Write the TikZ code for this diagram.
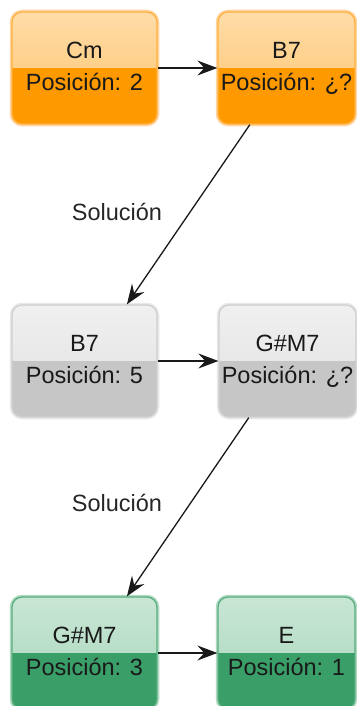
\documentclass[tikz,border=0pt]{standalone}
\usepackage{fontspec}
\setmainfont{Liberation Sans}
\usetikzlibrary{arrows.meta,calc}
\definecolor{orTop}{HTML}{FFDCA8}
\definecolor{orMid}{HTML}{FFC46A}
\definecolor{orBot}{HTML}{FF9900}
\definecolor{orEdge}{HTML}{FFB040}
\definecolor{orGlow}{HTML}{FFD6A0}
\definecolor{grTop}{HTML}{F0F0F0}
\definecolor{grMid}{HTML}{E0E0E0}
\definecolor{grBot}{HTML}{C6C6C6}
\definecolor{grEdge}{HTML}{CFCFCF}
\definecolor{grGlow}{HTML}{E8E8E8}
\definecolor{gnTop}{HTML}{C8E6D4}
\definecolor{gnMid}{HTML}{A8D6BB}
\definecolor{gnBot}{HTML}{3A9E68}
\definecolor{gnEdge}{HTML}{5AAE80}
\definecolor{gnGlow}{HTML}{B0DAC2}
\tikzset{
  chordbox/.style={rounded corners=10pt, minimum width=145pt, minimum height=112pt,
    inner sep=0pt, align=center, font=\fontsize{23.5}{32}\selectfont, text=black!90,
    line width=1.3pt},
  narrow/.style={minimum width=137pt},
  twotone/.style n args={3}{path picture={
      \fill[sharp corners, top color=#1, bottom color=#2] (path picture bounding box.north west) rectangle (path picture bounding box.east);
      \fill[sharp corners, #3] (path picture bounding box.west) rectangle (path picture bounding box.south east);}},
  orangebox/.style={chordbox, draw=orEdge, preaction={draw=orGlow, line width=4.5pt},
    twotone={orTop}{orMid}{orBot}},
  graybox/.style={chordbox, draw=grEdge, preaction={draw=grGlow, line width=4.5pt},
    twotone={grTop}{grMid}{grBot}},
  greenbox/.style={chordbox, draw=gnEdge, preaction={draw=gnGlow, line width=4.5pt},
    twotone={gnTop}{gnMid}{gnBot}},
  conn/.style={draw=black!90, line width=1.3pt, -{Stealth[length=20pt, width=15pt, inset=7pt]}},
  lbl/.style={font=\fontsize{23.5}{28}\selectfont, text=black!85, inner sep=0pt}
}
\newcommand{\twol}[2]{\raisebox{2pt}{\begin{tabular}{@{}c@{}}#1\\#2\end{tabular}}}
\begin{document}
\begin{tikzpicture}[x=1pt, y=-1pt]
  \useasboundingbox (0,0) rectangle (356,706);
  \fill[white] (0,0) rectangle (356,706);
  % row 1
  \node[orangebox] (a1) at (84.5,68) {\twol{Cm}{Posición: 2}};
  \node[orangebox, narrow] (b1) at (286.5,68) {\twol{B7}{Posición: ¿?}};
  % row 2
  \node[graybox] (a2) at (84.5,361) {\twol{B7}{Posición: 5}};
  \node[graybox, narrow] (b2) at (287.5,361) {\twol{G\#M7}{Posición: ¿?}};
  % row 3
  \node[greenbox] (a3) at (84.5,653) {\twol{G\#M7}{Posición: 3}};
  \node[greenbox, narrow] (b3) at (286.5,653) {\twol{E}{Posición: 1}};
  % connectors
  \draw[conn] (a1.east) -- (b1.west);
  \draw[conn] (a2.east) -- (b2.west);
  \draw[conn] (a3.east) -- (b3.west);
  \draw[conn] ($(b1.south west)!0.235!(b1.south east)$) -- ($(a2.north west)!0.79!(a2.north east)$);
  \draw[conn] ($(b2.south west)!0.22!(b2.south east)$) -- ($(a3.north west)!0.79!(a3.north east)$);
  \node[lbl] (s1) at (117,212) {Solución};
  \node[lbl] (s2) at (117,503) {Solución};
\end{tikzpicture}
\end{document}
